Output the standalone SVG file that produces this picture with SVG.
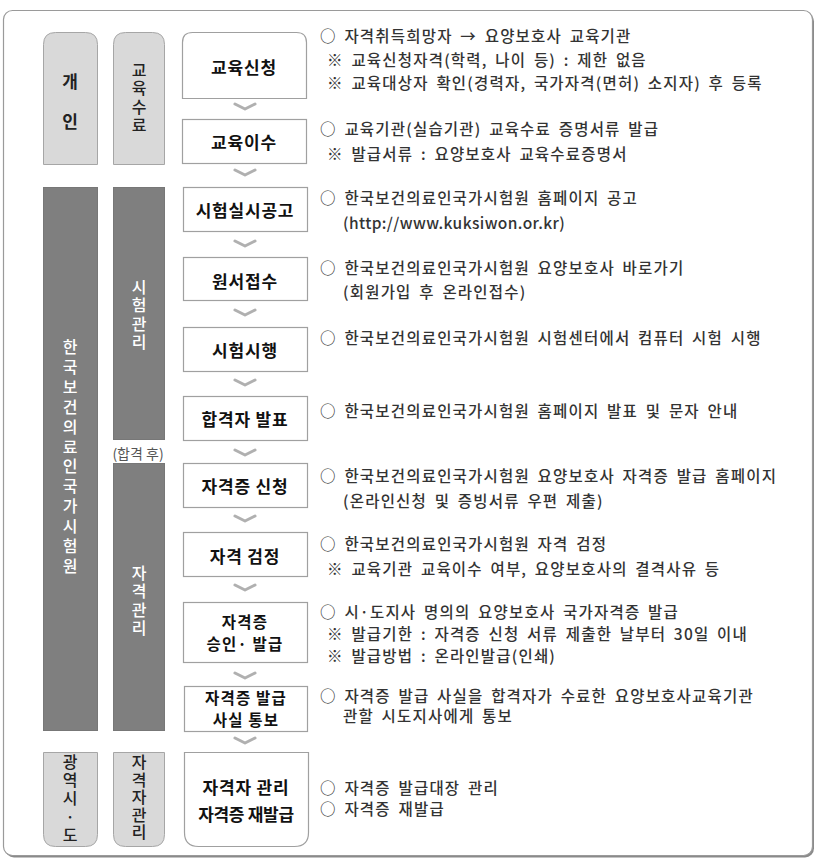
<svg xmlns="http://www.w3.org/2000/svg" width="824" height="866" viewBox="0 0 824 866">
<defs>
<style>
.frame{fill:#fff;stroke:#9a9a9a;stroke-width:1.2}
.light{fill:#d9d9d9;stroke:#a6a6a6;stroke-width:1}
.dark{fill:#7f7f7f;stroke:#777;stroke-width:1}
.node{fill:#fff;stroke:#a0a0a0;stroke-width:1.2}
.lbl{font-family:"Noto Sans CJK KR","Noto Sans",sans-serif;font-size:17px;font-weight:700;fill:#111;text-anchor:middle;dominant-baseline:central;letter-spacing:0.8px}
.lbl2{font-size:15.5px;letter-spacing:1.2px}
.col{font-family:"Noto Sans CJK KR","Noto Sans",sans-serif;font-size:17px;font-weight:700;fill:#222;text-anchor:middle;dominant-baseline:central}
.v{font-family:"Noto Sans CJK KR","Noto Sans",sans-serif;font-size:16px;font-weight:500;writing-mode:vertical-rl;text-orientation:upright}
.vb{fill:#222}
.vw{fill:#fff}
.note{font-family:"Noto Sans CJK KR","Noto Sans",sans-serif;font-size:15.5px;font-weight:500;fill:#333;dominant-baseline:central;letter-spacing:1.2px;word-spacing:3px}
.small{font-family:"Noto Sans CJK KR","Noto Sans",sans-serif;font-size:14px;fill:#555;text-anchor:middle;dominant-baseline:central}
.chev{fill:none;stroke:#b0b0b0;stroke-width:3;stroke-linejoin:round;stroke-linecap:round}
</style>
</defs>
<rect x="5" y="12.5" width="809" height="845" rx="9" fill="#8a8a8a"/>
<rect class="frame" x="3.5" y="10.5" width="809" height="845" rx="9"/>

<g id="col-individual">
<path class="light" d="M43.5,164.5 V44.5 Q43.5,32.5 55.5,32.5 H85.5 Q97.5,32.5 97.5,44.5 V164.5 Z"/>
<text class="col" x="70" y="80">개</text>
<text class="col" x="70" y="120">인</text>
</g>
<g id="col-edu">
<path class="light" d="M113.5,164.5 V44.5 Q113.5,32.5 125.5,32.5 H152.5 Q164.5,32.5 164.5,44.5 V164.5 Z"/>
<text class="v vb" x="139" y="62" style="letter-spacing:2.3px">교육수료</text>
</g>
<g id="col-kuksiwon">
<rect class="dark" x="43.5" y="187.5" width="54" height="543"/>
<text class="v vw" x="70" y="339" style="letter-spacing:3.9px">한국보건의료인국가시험원</text>
</g>
<g id="col-exam">
<rect class="dark" x="113.5" y="187.5" width="51" height="252"/>
<text class="v vw" x="139" y="279" style="letter-spacing:2.3px">시험관리</text>
</g>
<g id="label-after-pass">
<text class="small" x="138" y="453">(합격 후)</text>
</g>
<g id="col-qual">
<rect class="dark" x="113.5" y="463.5" width="51" height="267"/>
<text class="v vw" x="139" y="565" style="letter-spacing:2.3px">자격관리</text>
</g>
<g id="col-city">
<path class="light" d="M43.5,752.5 V834.5 Q43.5,846.5 55.5,846.5 H85.5 Q97.5,846.5 97.5,834.5 V752.5 Z"/>
<text class="v vb" x="70" y="754" style="letter-spacing:2.2px">광역시·도</text>
</g>
<g id="col-holder">
<path class="light" d="M113.5,752.5 V834.5 Q113.5,846.5 125.5,846.5 H152.5 Q164.5,846.5 164.5,834.5 V752.5 Z"/>
<text class="v vb" x="139" y="754" style="letter-spacing:1.5px">자격자관리</text>
</g>

<g id="connectors">
<polyline class="chev" points="235,104 245,109 255,104"/>
<polyline class="chev" points="235,170 245,175 255,170"/>
<polyline class="chev" points="235,241 245,246 255,241"/>
<polyline class="chev" points="235,310 245,315 255,310"/>
<polyline class="chev" points="235,380 245,385 255,380"/>
<polyline class="chev" points="235,450 245,455 255,450"/>
<polyline class="chev" points="235,516 245,521 255,516"/>
<polyline class="chev" points="235,585 245,590 255,585"/>
<polyline class="chev" points="235,673 245,678 255,673"/>
<polyline class="chev" points="235,738 245,743 255,738"/>
</g>

<g id="n1">
<path class="node" d="M182.5,98.5 V42.5 Q182.5,32.5 192.5,32.5 H296.5 Q306.5,32.5 306.5,42.5 V98.5 Z"/>
<text class="lbl" x="244" y="66">교육신청</text>
</g>
<g id="n2">
<rect class="node" x="182.5" y="119.5" width="124" height="44"/>
<text class="lbl" x="244" y="141">교육이수</text>
</g>
<g id="n3">
<rect class="node" x="183.5" y="187.5" width="124" height="44"/>
<text class="lbl" x="245" y="209">시험실시공고</text>
</g>
<g id="n4">
<rect class="node" x="183.5" y="257.5" width="124" height="43"/>
<text class="lbl" x="245" y="280">원서접수</text>
</g>
<g id="n5">
<rect class="node" x="183.5" y="327.5" width="124" height="44"/>
<text class="lbl" x="245" y="349">시험시행</text>
</g>
<g id="n6">
<rect class="node" x="183.5" y="396.5" width="124" height="44"/>
<text class="lbl" x="245" y="418">합격자 발표</text>
</g>
<g id="n7">
<rect class="node" x="183.5" y="463.5" width="124" height="44"/>
<text class="lbl" x="245" y="485">자격증 신청</text>
</g>
<g id="n8">
<rect class="node" x="183.5" y="532.5" width="124" height="44"/>
<text class="lbl" x="245" y="555">자격 검정</text>
</g>
<g id="n9">
<rect class="node" x="183.5" y="602.5" width="124" height="60"/>
<text class="lbl lbl2"><tspan x="245" y="621">자격증</tspan><tspan x="245" y="643">승인· 발급</tspan></text>
</g>
<g id="n10">
<rect class="node" x="184.5" y="686.5" width="123" height="45"/>
<text class="lbl lbl2"><tspan x="246" y="697">자격증 발급</tspan><tspan x="246" y="719">사실 통보</tspan></text>
</g>
<g id="n11">
<path class="node" d="M184.5,752.5 V832.5 Q184.5,846.5 198.5,846.5 H294.5 Q308.5,846.5 308.5,832.5 V752.5 Z"/>
<text class="lbl" x="246" y="786">자격자 관리</text>
<text class="lbl" x="246" y="813" style="letter-spacing:-0.3px">자격증 재발급</text>
</g>

<g id="notes">
<text class="note" x="320" y="35">○ 자격취득희망자 → 요양보호사 교육기관</text>
<text class="note" x="327" y="59">※ 교육신청자격(학력, 나이 등) : 제한 없음</text>
<text class="note" x="327" y="82">※ 교육대상자 확인(경력자, 국가자격(면허) 소지자) 후 등록</text>
<text class="note" x="320" y="128">○ 교육기관(실습기관) 교육수료 증명서류 발급</text>
<text class="note" x="327" y="153">※ 발급서류 : 요양보호사 교육수료증명서</text>
<text class="note" x="320" y="197">○ 한국보건의료인국가시험원  홈페이지 공고</text>
<text class="note" x="343" y="222" style="letter-spacing:0.4px">(http://www.kuksiwon.or.kr)</text>
<text class="note" x="320" y="267">○ 한국보건의료인국가시험원  요양보호사 바로가기</text>
<text class="note" x="343" y="291">(회원가입 후 온라인접수)</text>
<text class="note" x="320" y="337">○ 한국보건의료인국가시험원  시험센터에서 컴퓨터 시험 시행</text>
<text class="note" x="320" y="410">○ 한국보건의료인국가시험원  홈페이지 발표 및 문자 안내</text>
<text class="note" x="320" y="475">○ 한국보건의료인국가시험원  요양보호사 자격증 발급 홈페이지</text>
<text class="note" x="343" y="500">(온라인신청 및 증빙서류 우편 제출)</text>
<text class="note" x="320" y="543">○ 한국보건의료인국가시험원  자격 검정</text>
<text class="note" x="327" y="568">※ 교육기관 교육이수 여부, 요양보호사의 결격사유 등</text>
<text class="note" x="320" y="611">○ 시·도지사 명의의 요양보호사 국가자격증 발급</text>
<text class="note" x="327" y="633">※ 발급기한 : 자격증 신청 서류 제출한 날부터 30일 이내</text>
<text class="note" x="327" y="655">※ 발급방법 : 온라인발급(인쇄)</text>
<text class="note" x="320" y="695">○ 자격증 발급 사실을 합격자가 수료한 요양보호사교육기관</text>
<text class="note" x="343" y="715">관할 시도지사에게 통보</text>
<text class="note" x="320" y="787">○ 자격증 발급대장 관리</text>
<text class="note" x="320" y="808">○ 자격증 재발급</text>
</g>
</svg>
